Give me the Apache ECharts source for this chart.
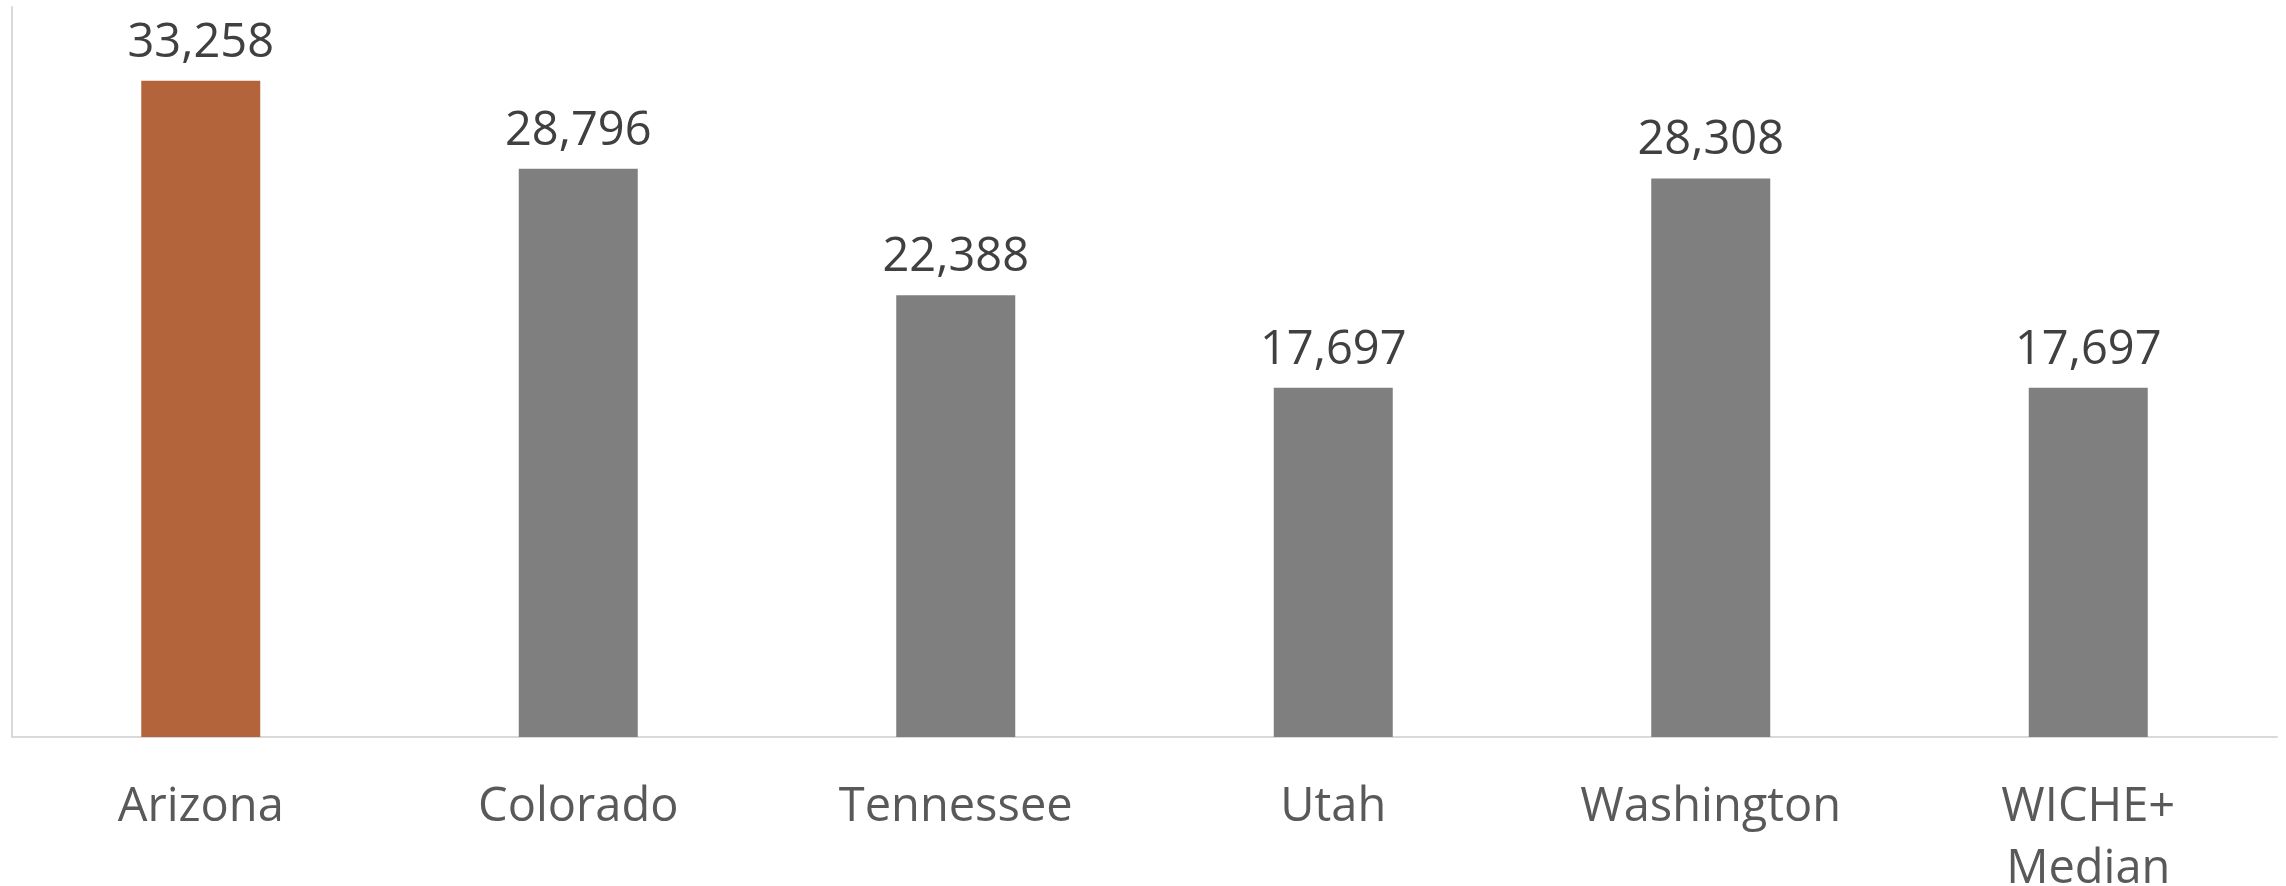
<!DOCTYPE html>
<html>
<head>
    <meta charset="utf-8">
    <title>ECharts</title>
    <script src="https://cdn.jsdelivr.net/npm/echarts@6/dist/echarts.min.js"></script>
</head>
<body style='background-color: #ffffff;margin:0px;'>
    <div id="main" style="width: 2286px;height:886px;"></div>
    <script type="text/javascript">
        // chart data
        var categories = ['Arizona', 'Colorado', 'Tennessee', 'Utah', 'Washington', 'WICHE+\nMedian'];
        var values = [33258, 28796, 22388, 17697, 28308, 17697];
        var highlightIndex = 0;

        var myChart = echarts.init(document.getElementById('main'));
        var option = {
            animation: false,
            textStyle: { fontFamily: 'Open Sans' },
            grid: { left: 12, right: 9, top: 7, bottom: 149, containLabel: false, outerBoundsMode: 'none' },
            xAxis: {
                type: 'category',
                data: categories,
                axisLine: { show: true, lineStyle: { color: '#D9D9D9', width: 2 } },
                axisTick: { show: false },
                axisLabel: {
                    interval: 0,
                    color: '#595959',
                    fontSize: 47,
                    fontFamily: 'Open Sans',
                    lineHeight: 62,
                    margin: 40
                }
            },
            yAxis: {
                type: 'value',
                min: 0,
                max: 37000,
                axisLine: { show: true, lineStyle: { color: '#D9D9D9', width: 2 } },
                axisTick: { show: false },
                axisLabel: { show: false },
                splitLine: { show: false }
            },
            series: [{
                type: 'bar',
                data: values,
                barWidth: 119,
                itemStyle: {
                    color: function (p) {
                        return p.dataIndex === highlightIndex ? '#B3643A' : '#7F7F7F';
                    }
                },
                label: {
                    show: true,
                    position: 'top',
                    distance: 14,
                    color: '#404040',
                    fontSize: 47,
                    fontFamily: 'Open Sans',
                    formatter: function (p) {
                        return p.value.toLocaleString('en-US');
                    }
                }
            }]
        };
        myChart.setOption(option);
    </script>
</body>
</html>
